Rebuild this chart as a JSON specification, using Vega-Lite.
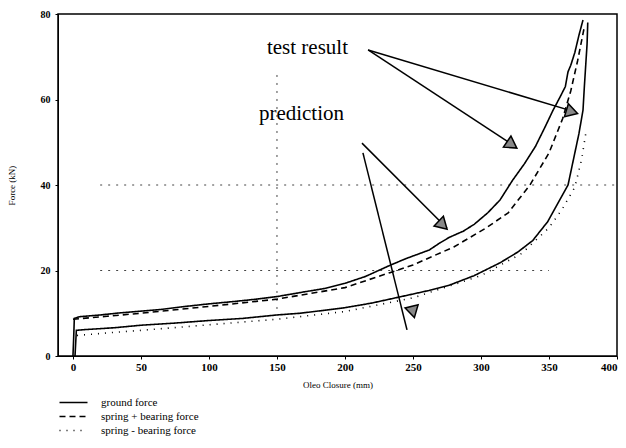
{
  "$schema": "https://vega.github.io/schema/vega-lite/v6.json",
  "width": 559,
  "height": 342,
  "autosize": {"type": "none"},
  "padding": {"left": 58, "top": 14, "right": 9, "bottom": 92},
  "background": "white",
  "config": {
    "view": {"stroke": "black", "strokeWidth": 1.5},
    "font": "Liberation Serif",
    "axis": {"labelFont": "Liberation Serif", "titleFont": "Liberation Serif", "labelColor": "black", "titleColor": "black", "domainColor": "black", "tickColor": "black", "labelFontWeight": "bold", "labelFontSize": 10, "titleFontSize": 9, "titleFontWeight": "normal", "grid": false}
  },
  "datasets": {
    "curves": [
      {"curve": "A", "type": "ground force", "x": 0, "y": 0},
      {"curve": "A", "type": "ground force", "x": 0.5, "y": 4},
      {"curve": "A", "type": "ground force", "x": 1, "y": 8.8},
      {"curve": "A", "type": "ground force", "x": 5, "y": 9.2},
      {"curve": "A", "type": "ground force", "x": 20, "y": 9.6},
      {"curve": "A", "type": "ground force", "x": 35, "y": 10.1},
      {"curve": "A", "type": "ground force", "x": 50, "y": 10.5},
      {"curve": "A", "type": "ground force", "x": 65, "y": 10.9},
      {"curve": "A", "type": "ground force", "x": 80, "y": 11.5},
      {"curve": "A", "type": "ground force", "x": 100, "y": 12.2},
      {"curve": "A", "type": "ground force", "x": 120, "y": 12.8},
      {"curve": "A", "type": "ground force", "x": 135, "y": 13.3},
      {"curve": "A", "type": "ground force", "x": 150, "y": 13.9},
      {"curve": "A", "type": "ground force", "x": 170, "y": 15},
      {"curve": "A", "type": "ground force", "x": 185, "y": 15.8},
      {"curve": "A", "type": "ground force", "x": 200, "y": 17},
      {"curve": "A", "type": "ground force", "x": 215, "y": 18.6},
      {"curve": "A", "type": "ground force", "x": 233, "y": 21.2},
      {"curve": "A", "type": "ground force", "x": 245, "y": 22.8},
      {"curve": "A", "type": "ground force", "x": 262, "y": 24.8},
      {"curve": "A", "type": "ground force", "x": 270, "y": 26.5},
      {"curve": "A", "type": "ground force", "x": 277, "y": 27.8},
      {"curve": "A", "type": "ground force", "x": 287, "y": 29.2},
      {"curve": "A", "type": "ground force", "x": 295, "y": 30.8},
      {"curve": "A", "type": "ground force", "x": 305, "y": 33.5},
      {"curve": "A", "type": "ground force", "x": 314, "y": 36.5},
      {"curve": "A", "type": "ground force", "x": 323, "y": 41},
      {"curve": "A", "type": "ground force", "x": 332, "y": 45},
      {"curve": "A", "type": "ground force", "x": 340, "y": 49},
      {"curve": "A", "type": "ground force", "x": 347, "y": 53.5},
      {"curve": "A", "type": "ground force", "x": 353, "y": 57.5},
      {"curve": "A", "type": "ground force", "x": 358, "y": 60.5},
      {"curve": "A", "type": "ground force", "x": 362, "y": 63},
      {"curve": "A", "type": "ground force", "x": 364, "y": 66.5},
      {"curve": "A", "type": "ground force", "x": 366, "y": 68},
      {"curve": "A", "type": "ground force", "x": 369, "y": 71},
      {"curve": "A", "type": "ground force", "x": 372, "y": 75},
      {"curve": "A", "type": "ground force", "x": 375, "y": 78.6},
      {"curve": "B", "type": "spring + bearing force", "x": 0, "y": 8.6},
      {"curve": "B", "type": "spring + bearing force", "x": 25, "y": 9.3},
      {"curve": "B", "type": "spring + bearing force", "x": 50, "y": 10},
      {"curve": "B", "type": "spring + bearing force", "x": 100, "y": 11.6},
      {"curve": "B", "type": "spring + bearing force", "x": 150, "y": 13.3},
      {"curve": "B", "type": "spring + bearing force", "x": 200, "y": 16},
      {"curve": "B", "type": "spring + bearing force", "x": 233, "y": 19.5},
      {"curve": "B", "type": "spring + bearing force", "x": 250, "y": 21.3},
      {"curve": "B", "type": "spring + bearing force", "x": 280, "y": 25.5},
      {"curve": "B", "type": "spring + bearing force", "x": 304, "y": 30},
      {"curve": "B", "type": "spring + bearing force", "x": 320, "y": 33.5},
      {"curve": "B", "type": "spring + bearing force", "x": 336, "y": 40},
      {"curve": "B", "type": "spring + bearing force", "x": 350, "y": 47.5},
      {"curve": "B", "type": "spring + bearing force", "x": 360, "y": 55.5},
      {"curve": "B", "type": "spring + bearing force", "x": 366, "y": 62},
      {"curve": "B", "type": "spring + bearing force", "x": 371, "y": 69},
      {"curve": "B", "type": "spring + bearing force", "x": 376, "y": 77},
      {"curve": "C", "type": "ground force", "x": 1.5, "y": 0},
      {"curve": "C", "type": "ground force", "x": 2, "y": 3},
      {"curve": "C", "type": "ground force", "x": 2.5, "y": 6},
      {"curve": "C", "type": "ground force", "x": 10, "y": 6.2},
      {"curve": "C", "type": "ground force", "x": 30, "y": 6.6},
      {"curve": "C", "type": "ground force", "x": 50, "y": 7.2},
      {"curve": "C", "type": "ground force", "x": 75, "y": 7.7},
      {"curve": "C", "type": "ground force", "x": 100, "y": 8.3},
      {"curve": "C", "type": "ground force", "x": 125, "y": 8.8},
      {"curve": "C", "type": "ground force", "x": 150, "y": 9.6},
      {"curve": "C", "type": "ground force", "x": 167, "y": 10},
      {"curve": "C", "type": "ground force", "x": 185, "y": 10.7},
      {"curve": "C", "type": "ground force", "x": 200, "y": 11.3},
      {"curve": "C", "type": "ground force", "x": 220, "y": 12.4},
      {"curve": "C", "type": "ground force", "x": 240, "y": 13.8},
      {"curve": "C", "type": "ground force", "x": 260, "y": 15.2},
      {"curve": "C", "type": "ground force", "x": 277, "y": 16.6},
      {"curve": "C", "type": "ground force", "x": 295, "y": 18.8},
      {"curve": "C", "type": "ground force", "x": 314, "y": 21.8},
      {"curve": "C", "type": "ground force", "x": 327, "y": 24.3},
      {"curve": "C", "type": "ground force", "x": 338, "y": 27},
      {"curve": "C", "type": "ground force", "x": 349, "y": 31.4},
      {"curve": "C", "type": "ground force", "x": 357, "y": 36},
      {"curve": "C", "type": "ground force", "x": 364, "y": 40},
      {"curve": "C", "type": "ground force", "x": 368, "y": 46},
      {"curve": "C", "type": "ground force", "x": 372, "y": 52},
      {"curve": "C", "type": "ground force", "x": 375, "y": 57.5},
      {"curve": "C", "type": "ground force", "x": 376, "y": 63},
      {"curve": "C", "type": "ground force", "x": 377, "y": 68},
      {"curve": "C", "type": "ground force", "x": 378, "y": 73},
      {"curve": "C", "type": "ground force", "x": 378.5, "y": 78},
      {"curve": "D", "type": "spring - bearing force", "x": 3, "y": 4.8},
      {"curve": "D", "type": "spring - bearing force", "x": 25, "y": 5.4},
      {"curve": "D", "type": "spring - bearing force", "x": 50, "y": 6},
      {"curve": "D", "type": "spring - bearing force", "x": 100, "y": 7.3},
      {"curve": "D", "type": "spring - bearing force", "x": 150, "y": 8.6},
      {"curve": "D", "type": "spring - bearing force", "x": 200, "y": 10.4},
      {"curve": "D", "type": "spring - bearing force", "x": 250, "y": 13.6},
      {"curve": "D", "type": "spring - bearing force", "x": 300, "y": 18.8},
      {"curve": "D", "type": "spring - bearing force", "x": 330, "y": 24},
      {"curve": "D", "type": "spring - bearing force", "x": 350, "y": 30},
      {"curve": "D", "type": "spring - bearing force", "x": 360, "y": 34.5},
      {"curve": "D", "type": "spring - bearing force", "x": 369, "y": 39.5},
      {"curve": "D", "type": "spring - bearing force", "x": 374, "y": 46},
      {"curve": "D", "type": "spring - bearing force", "x": 377, "y": 52}
    ],
    "hgrid": [
      {"y": 40, "x": 20, "x2": 400},
      {"y": 20, "x": 20, "x2": 350}
    ],
    "vgrid": [
      {"x": 150, "y": 11, "y2": 67}
    ],
    "arrows": [
      {"id": 1, "x": 217, "y": 71.6, "x2": 320, "y2": 50.1},
      {"id": 2, "x": 217, "y": 71.6, "x2": 369, "y2": 57.1},
      {"id": 3, "x": 212.5, "y": 49.8, "x2": 275, "y2": 29.9},
      {"id": 4, "x": 213.2, "y": 47.5, "x2": 245.6, "y2": 6.1}
    ],
    "heads": [
      {"id": 1, "x": 322.8, "y": 49.4},
      {"id": 2, "x": 366.9, "y": 57.1},
      {"id": 3, "x": 272, "y": 30.6},
      {"id": 4, "x": 250, "y": 10.3}
    ],
    "labels": [
      {"text": "test result", "x": 172.4, "y": 72},
      {"text": "prediction", "x": 168, "y": 56.6}
    ]
  },
  "layer": [
    {
      "data": {"name": "hgrid"},
      "mark": {"type": "rule", "color": "#444", "strokeWidth": 1, "strokeDash": [2, 6]},
      "encoding": {"y": {"field": "y", "type": "quantitative"}, "x": {"field": "x", "type": "quantitative"}, "x2": {"field": "x2"}}
    },
    {
      "data": {"name": "vgrid"},
      "mark": {"type": "rule", "color": "#444", "strokeWidth": 1, "strokeDash": [2, 6]},
      "encoding": {"x": {"field": "x", "type": "quantitative"}, "y": {"field": "y", "type": "quantitative"}, "y2": {"field": "y2"}}
    },
    {
      "data": {"name": "curves"},
      "mark": {"type": "line", "color": "black", "strokeWidth": 1.6},
      "encoding": {
        "x": {"field": "x", "type": "quantitative", "scale": {"domain": [-11, 400], "nice": false}, "axis": {"title": "Oleo Closure (mm)", "values": [0, 50, 100, 150, 200, 250, 300, 350, 400], "tickSize": 3, "labelPadding": 2, "titlePadding": 8, "labelFontSize": 11}},
        "y": {"field": "y", "type": "quantitative", "scale": {"domain": [0, 80], "nice": false}, "axis": {"title": "Force (kN)", "values": [0, 20, 40, 60, 80], "tickSize": 3, "labelPadding": 5, "titlePadding": 24}},
        "detail": {"field": "curve"},
        "strokeDash": {"field": "type", "type": "nominal", "scale": {"domain": ["ground force", "spring + bearing force", "spring - bearing force"], "range": [[1, 0], [6, 4], [1, 6]]}, "legend": {"title": null, "orient": "none", "legendX": 10, "legendY": 383, "symbolType": "M-3.5,0H3.5", "symbolStrokeColor": "black", "symbolStrokeWidth": 1.5, "symbolSize": 64, "labelFont": "Liberation Serif", "labelFontSize": 11, "labelColor": "black", "rowPadding": 2, "labelOffset": 22}}
      }
    },
    {
      "data": {"name": "arrows"},
      "mark": {"type": "rule", "color": "black", "strokeWidth": 1.5},
      "encoding": {"x": {"field": "x", "type": "quantitative"}, "y": {"field": "y", "type": "quantitative"}, "x2": {"field": "x2"}, "y2": {"field": "y2"}}
    },
    {
      "data": {"name": "heads"},
      "transform": [{"filter": "datum.id == 1"}],
      "mark": {"type": "point", "shape": "triangle-up", "filled": true, "fill": "#888", "stroke": "black", "strokeWidth": 1.5, "size": 180, "angle": 124, "opacity": 1},
      "encoding": {"x": {"field": "x", "type": "quantitative"}, "y": {"field": "y", "type": "quantitative"}}
    },
    {
      "data": {"name": "heads"},
      "transform": [{"filter": "datum.id == 2"}],
      "mark": {"type": "point", "shape": "triangle-up", "filled": true, "fill": "#888", "stroke": "black", "strokeWidth": 1.5, "size": 180, "angle": 107, "opacity": 1},
      "encoding": {"x": {"field": "x", "type": "quantitative"}, "y": {"field": "y", "type": "quantitative"}}
    },
    {
      "data": {"name": "heads"},
      "transform": [{"filter": "datum.id == 3"}],
      "mark": {"type": "point", "shape": "triangle-up", "filled": true, "fill": "#888", "stroke": "black", "strokeWidth": 1.5, "size": 180, "angle": 134, "opacity": 1},
      "encoding": {"x": {"field": "x", "type": "quantitative"}, "y": {"field": "y", "type": "quantitative"}}
    },
    {
      "data": {"name": "heads"},
      "transform": [{"filter": "datum.id == 4"}],
      "mark": {"type": "point", "shape": "triangle-up", "filled": true, "fill": "#888", "stroke": "black", "strokeWidth": 1.5, "size": 180, "angle": 166, "opacity": 1},
      "encoding": {"x": {"field": "x", "type": "quantitative"}, "y": {"field": "y", "type": "quantitative"}}
    },
    {
      "data": {"name": "labels"},
      "mark": {"type": "text", "font": "Liberation Serif", "fontSize": 21, "color": "black", "align": "center", "baseline": "middle"},
      "encoding": {"x": {"field": "x", "type": "quantitative"}, "y": {"field": "y", "type": "quantitative"}, "text": {"field": "text"}}
    }
  ]
}
